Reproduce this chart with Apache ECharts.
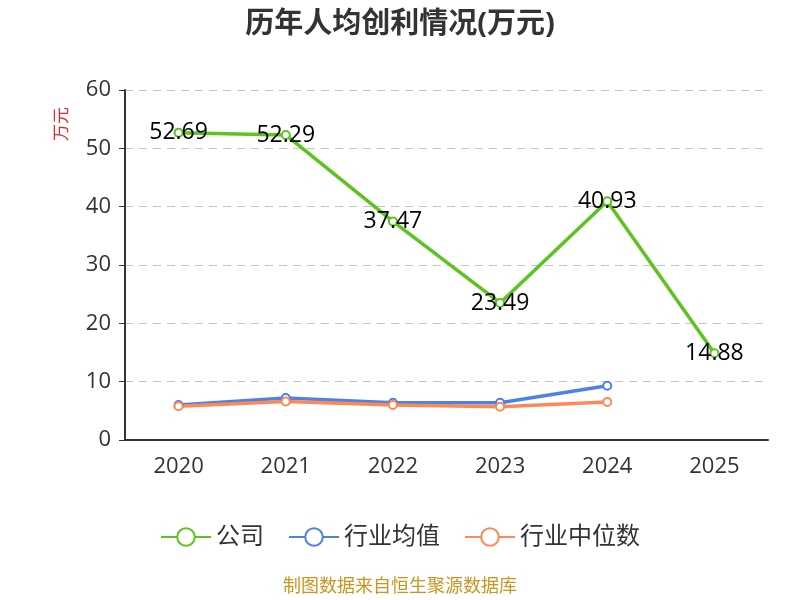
<!DOCTYPE html>
<html>
<head>
<meta charset="utf-8">
<script src="https://cdn.jsdelivr.net/npm/echarts@6/dist/echarts.min.js"></script>
<style>
html,body{margin:0;padding:0;background:#fff;}
#main{width:800px;height:600px;}
</style>
</head>
<body>
<div id="main"></div>
<script>
// 年份
var years = ['2020', '2021', '2022', '2023', '2024', '2025'];
// 公司
var company = [52.69, 52.29, 37.47, 23.49, 40.93, 14.88];
// 行业均值
var industryAvg = [6.0, 7.2, 6.4, 6.4, 9.3, null];
// 行业中位数
var industryMid = [5.8, 6.6, 6.0, 5.7, 6.5, null];

var chart = echarts.init(document.getElementById('main'));
var font = '"Open Sans", "Noto Sans CJK SC", sans-serif';

option = {
    title: {
        text: '历年人均创利情况(万元)',
        left: 'center',
        top: 5,
        textStyle: {fontSize: 29, fontWeight: 'bold', color: '#333', fontFamily: font}
    },
    legend: {
        data: ['公司', '行业均值', '行业中位数'],
        bottom: 46,
        itemWidth: 50,
        itemHeight: 22,
        itemGap: 24,
        textStyle: {fontSize: 24, color: '#333', fontFamily: font}
    },
    graphic: [
        {
            type: 'text',
            left: 'center',
            top: 578,
            style: {text: '制图数据来自恒生聚源数据库', fill: '#c8961e', fontSize: 18, fontFamily: font}
        },
        {
            type: 'text',
            x: 54,
            y: 141,
            rotation: Math.PI / 2,
            style: {text: '万元', fill: '#e8262a', fontSize: 17, fontFamily: font}
        }
    ],
    grid: {
        left: 125,
        right: 32,
        top: 90,
        bottom: 160
    },
    xAxis: {
        type: 'category',
        data: years,
        axisLine: {lineStyle: {color: '#333', width: 2}},
        axisTick: {length: 6, lineStyle: {color: '#333'}},
        axisLabel: {fontSize: 22, color: '#333', margin: 16, fontFamily: font}
    },
    yAxis: {
        type: 'value',
        min: 0,
        max: 60,
        interval: 10,
        axisLine: {show: true, lineStyle: {color: '#333', width: 2}},
        axisTick: {show: true, length: 6, lineStyle: {color: '#333'}},
        axisLabel: {fontSize: 22, color: '#333', margin: 14, fontFamily: font},
        splitLine: {lineStyle: {type: [8, 6], color: '#c4c4c4'}}
    },
    series: [
        {
            name: '公司',
            type: 'line',
            data: company,
            symbol: 'emptyCircle',
            symbolSize: 8,
            itemStyle: {color: '#5cc41e'},
            lineStyle: {color: '#5cc41e', width: 3.5},
            label: {
                show: true,
                position: 'inside',
                fontSize: 23,
                color: '#000',
                fontFamily: font
            }
        },
        {
            name: '行业均值',
            type: 'line',
            data: industryAvg,
            symbol: 'emptyCircle',
            symbolSize: 8,
            itemStyle: {color: '#4e81e8'},
            lineStyle: {color: '#4e81e8', width: 3.5}
        },
        {
            name: '行业中位数',
            type: 'line',
            data: industryMid,
            symbol: 'emptyCircle',
            symbolSize: 8,
            itemStyle: {color: '#fd8a55'},
            lineStyle: {color: '#fd8a55', width: 3.5}
        }
    ]
};
chart.setOption(option);
</script>
</body>
</html>
